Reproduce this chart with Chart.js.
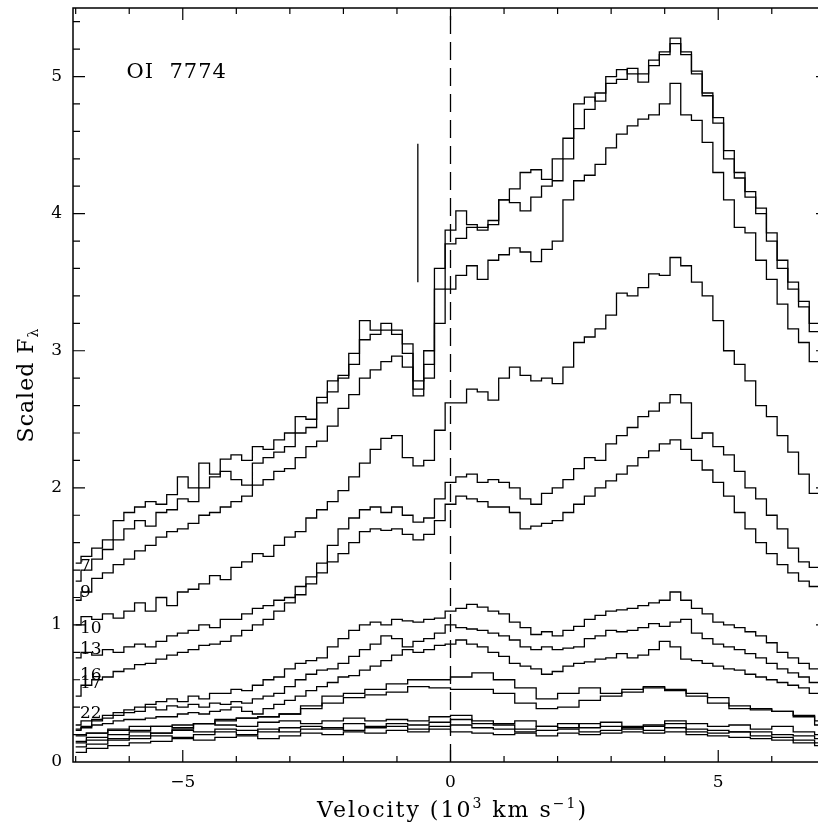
<!DOCTYPE html>
<html>
<head>
<meta charset="utf-8">
<script src="https://cdn.jsdelivr.net/npm/chart.js@4.4.0/dist/chart.umd.min.js"></script>
<style>
  html, body { margin: 0; padding: 0; background: #fff; overflow: hidden; }
  canvas { display: block; }
</style>
</head>
<body>
<canvas id="myChart" width="830" height="826"></canvas>
<script>
// velocity grids (10^3 km/s)
var vFine = [-7.0,-6.8,-6.6,-6.4,-6.2,-6.0,-5.8,-5.6,-5.4,-5.2,
  -5.0,-4.8,-4.6,-4.4,-4.2,-4.0,-3.8,-3.6,-3.4,-3.2,
  -3.0,-2.8,-2.6,-2.4,-2.2,-2.0,-1.8,-1.6,-1.4,-1.2,
  -1.0,-0.8,-0.6,-0.4,-0.2,0.0,0.2,0.4,0.6,0.8,
  1.0,1.2,1.4,1.6,1.8,2.0,2.2,2.4,2.6,2.8,
  3.0,3.2,3.4,3.6,3.8,4.0,4.2,4.4,4.6,4.8,
  5.0,5.2,5.4,5.6,5.8,6.0,6.2,6.4,6.6,6.8,7.0]
var vCoarse = [-7.0,-6.6,-6.2,-5.8,-5.4,-5.0,-4.6,-4.2,-3.8,-3.4,-3.0,-2.6,
  -2.2,-1.8,-1.4,-1.0,-0.6,-0.2,0.2,0.6,1.0,1.4,1.8,2.2,
  2.6,3.0,3.4,3.8,4.2,4.6,5.0,5.4,5.8,6.2,6.6,7.0]

// scaled flux, one array per spectrum (top to bottom)
var fluxA = [1.45,1.50,1.56,1.62,1.76,1.82,1.86,1.90,1.88,1.95,
  2.08,2.00,2.18,2.10,2.21,2.24,2.20,2.30,2.28,2.35,
  2.40,2.52,2.50,2.66,2.78,2.82,2.98,3.22,3.15,3.20,
  3.15,3.05,2.78,3.00,3.60,3.88,4.02,3.92,3.90,3.92,
  4.10,4.18,4.30,4.32,4.25,4.40,4.55,4.80,4.85,4.82,
  5.00,5.05,5.02,4.96,5.12,5.18,5.28,5.16,5.02,4.86,
  4.66,4.40,4.26,4.12,4.00,3.80,3.60,3.45,3.32,3.20,3.12]
var fluxB = [1.32,1.40,1.48,1.55,1.62,1.70,1.76,1.72,1.82,1.84,
  1.92,1.90,2.00,2.08,2.12,2.06,2.02,2.18,2.22,2.26,
  2.30,2.40,2.44,2.62,2.70,2.80,2.90,3.08,3.12,3.15,
  3.12,2.98,2.72,2.90,3.45,3.78,3.82,3.90,3.88,3.95,
  4.10,4.08,4.02,4.12,4.20,4.24,4.40,4.62,4.76,4.88,
  4.95,4.98,5.06,5.02,5.08,5.16,5.24,5.18,5.04,4.88,
  4.70,4.46,4.30,4.16,4.04,3.86,3.66,3.50,3.36,3.14,3.08]
var fluxC = [1.18,1.24,1.34,1.38,1.44,1.48,1.54,1.58,1.64,1.68,
  1.70,1.74,1.80,1.82,1.86,1.90,1.94,2.02,2.06,2.12,
  2.14,2.22,2.30,2.34,2.45,2.58,2.68,2.80,2.86,2.92,
  2.96,2.88,2.67,2.80,3.20,3.45,3.55,3.62,3.52,3.66,
  3.70,3.75,3.72,3.65,3.74,3.80,4.10,4.24,4.28,4.36,
  4.48,4.58,4.64,4.69,4.72,4.80,4.95,4.72,4.68,4.52,
  4.30,4.10,3.90,3.86,3.66,3.52,3.34,3.16,3.06,2.92,2.88]
var fluxD = [1.00,1.06,1.04,1.08,1.05,1.10,1.16,1.10,1.20,1.14,
  1.24,1.26,1.30,1.36,1.33,1.42,1.46,1.52,1.50,1.58,
  1.64,1.68,1.78,1.84,1.90,1.98,2.08,2.18,2.28,2.36,
  2.38,2.22,2.16,2.20,2.42,2.62,2.62,2.72,2.70,2.64,
  2.80,2.88,2.82,2.78,2.80,2.76,2.88,3.06,3.10,3.16,
  3.26,3.42,3.40,3.46,3.56,3.55,3.68,3.62,3.50,3.40,
  3.22,3.00,2.90,2.78,2.60,2.52,2.38,2.26,2.10,1.96,1.90]
var fluxE = [0.76,0.80,0.78,0.82,0.80,0.84,0.86,0.84,0.88,0.92,
  0.94,0.96,1.00,0.98,1.04,1.04,1.08,1.12,1.14,1.18,
  1.20,1.28,1.35,1.45,1.58,1.70,1.78,1.84,1.86,1.82,
  1.86,1.80,1.75,1.78,1.92,2.04,2.08,2.10,2.04,2.06,
  2.04,2.00,1.92,1.88,1.96,2.00,2.06,2.14,2.22,2.20,
  2.32,2.38,2.44,2.52,2.56,2.62,2.68,2.62,2.36,2.40,
  2.30,2.24,2.12,2.00,1.92,1.80,1.70,1.56,1.46,1.42,1.40]
var fluxF = [0.48,0.56,0.60,0.62,0.66,0.68,0.71,0.72,0.75,0.78,
  0.80,0.82,0.85,0.86,0.88,0.92,0.96,1.00,1.04,1.10,
  1.16,1.22,1.30,1.38,1.46,1.52,1.60,1.68,1.70,1.69,
  1.70,1.66,1.62,1.66,1.76,1.88,1.94,1.92,1.90,1.86,
  1.86,1.82,1.70,1.72,1.74,1.76,1.82,1.88,1.94,2.00,
  2.05,2.10,2.16,2.22,2.27,2.32,2.35,2.28,2.20,2.13,
  2.04,1.94,1.82,1.70,1.60,1.52,1.44,1.38,1.32,1.28,1.26]
var fluxG = [0.27,0.30,0.31,0.34,0.36,0.38,0.40,0.42,0.44,0.46,
  0.44,0.48,0.46,0.50,0.50,0.53,0.52,0.56,0.60,0.62,
  0.68,0.72,0.74,0.76,0.84,0.90,0.96,1.00,1.02,1.00,
  1.04,1.03,1.02,1.04,1.05,1.10,1.12,1.15,1.13,1.10,
  1.08,1.02,0.98,0.93,0.95,0.92,0.96,0.99,1.04,1.07,
  1.10,1.11,1.12,1.14,1.16,1.18,1.24,1.18,1.12,1.08,
  1.02,1.00,0.98,0.95,0.92,0.87,0.80,0.76,0.72,0.68,0.66]
var fluxH = [0.24,0.26,0.30,0.32,0.34,0.36,0.37,0.40,0.38,0.41,
  0.40,0.42,0.40,0.43,0.42,0.44,0.43,0.46,0.48,0.50,
  0.55,0.60,0.64,0.67,0.68,0.72,0.77,0.82,0.86,0.92,
  0.90,0.84,0.88,0.90,0.94,1.00,0.98,0.97,0.96,0.94,
  0.92,0.89,0.84,0.82,0.84,0.82,0.83,0.84,0.90,0.92,
  0.96,0.95,0.96,0.98,1.01,0.99,1.02,1.04,0.94,0.90,
  0.86,0.84,0.82,0.79,0.76,0.72,0.68,0.65,0.62,0.58,0.56]
var fluxI = [0.23,0.25,0.27,0.28,0.30,0.31,0.31,0.32,0.33,0.33,
  0.35,0.36,0.35,0.37,0.38,0.40,0.37,0.35,0.39,0.42,
  0.45,0.48,0.52,0.55,0.58,0.62,0.63,0.67,0.70,0.74,
  0.78,0.82,0.80,0.82,0.85,0.86,0.89,0.86,0.84,0.80,
  0.77,0.72,0.70,0.68,0.64,0.66,0.70,0.72,0.73,0.75,
  0.76,0.79,0.76,0.78,0.82,0.88,0.84,0.75,0.74,0.72,
  0.70,0.68,0.67,0.64,0.62,0.60,0.58,0.56,0.54,0.50,0.48]
var fluxJ = [0.19,0.21,0.23,0.26,0.26,0.27,0.28,0.30,0.32,0.33,0.35,0.41,
  0.48,0.50,0.53,0.57,0.60,0.60,0.62,0.65,0.60,0.54,0.46,0.50,
  0.54,0.50,0.53,0.55,0.53,0.50,0.47,0.41,0.39,0.37,0.33,0.27]
var fluxK = [0.14,0.16,0.17,0.19,0.21,0.24,0.28,0.31,0.32,0.33,0.35,0.39,
  0.43,0.47,0.49,0.51,0.55,0.54,0.53,0.53,0.50,0.43,0.39,0.40,
  0.45,0.48,0.51,0.54,0.52,0.48,0.43,0.39,0.38,0.37,0.34,0.30]
var fluxL = [0.20,0.21,0.24,0.23,0.26,0.25,0.28,0.27,0.26,0.29,0.30,0.28,
  0.30,0.32,0.30,0.31,0.30,0.33,0.34,0.30,0.28,0.30,0.26,0.28,
  0.25,0.29,0.26,0.27,0.30,0.28,0.26,0.27,0.24,0.26,0.22,0.20]
var fluxM = [0.15,0.18,0.20,0.22,0.21,0.23,0.22,0.24,0.23,0.22,0.25,0.26,
  0.24,0.28,0.26,0.28,0.27,0.29,0.31,0.28,0.27,0.24,0.26,0.25,
  0.28,0.26,0.24,0.26,0.28,0.24,0.23,0.22,0.22,0.20,0.19,0.17]
var fluxN = [0.11,0.13,0.16,0.17,0.19,0.18,0.20,0.22,0.20,0.24,0.22,0.24,
  0.25,0.23,0.25,0.26,0.24,0.26,0.27,0.25,0.24,0.22,0.23,0.24,
  0.22,0.23,0.25,0.23,0.25,0.22,0.21,0.22,0.19,0.18,0.16,0.14]
var fluxO = [0.07,0.10,0.12,0.14,0.15,0.17,0.16,0.18,0.19,0.17,0.19,0.21,
  0.20,0.22,0.21,0.23,0.22,0.24,0.22,0.21,0.20,0.21,0.19,0.21,
  0.20,0.21,0.22,0.21,0.22,0.20,0.19,0.18,0.17,0.16,0.14,0.12]

var xTicks = [-5, 0, 5]
var yTicks = [0, 1, 2, 3, 4, 5]

// day labels at the left end of the spectra
var dayLabels = ['7', '9', '10', '13', '16', '17', '22']
var dayLabelY = [1.39, 1.20, 0.94, 0.79, 0.60, 0.54, 0.32]
var dayLabelX = -6.92

// rest velocity line and the short absorption marker
var zeroLineX = [0, 0]
var zeroLineY = [0, 5.5]
var markX = [-0.61, -0.61]
var markY = [3.50, 4.51]

var SERIF = '"DejaVu Serif", "Liberation Serif", serif'

function pts(xs, ys) {
    return xs.map(function(x, i) { return {x: x, y: ys[i]} })
}

function spectrum(xs, ys) {
    return {
        data: pts(xs, ys),
        borderColor: '#000',
        borderWidth: 1.3,
        pointRadius: 0,
        stepped: 'middle',
        fill: false
    }
}

var datasets = [
    spectrum(vFine, fluxA), spectrum(vFine, fluxB), spectrum(vFine, fluxC),
    spectrum(vFine, fluxD), spectrum(vFine, fluxE), spectrum(vFine, fluxF),
    spectrum(vFine, fluxG), spectrum(vFine, fluxH), spectrum(vFine, fluxI),
    spectrum(vCoarse, fluxJ), spectrum(vCoarse, fluxK), spectrum(vCoarse, fluxL),
    spectrum(vCoarse, fluxM), spectrum(vCoarse, fluxN), spectrum(vCoarse, fluxO),
    {data: pts(zeroLineX, zeroLineY), borderColor: '#000', borderWidth: 1.3,
     borderDash: [18, 8], pointRadius: 0},
    {data: pts(markX, markY), borderColor: '#000', borderWidth: 1.3, pointRadius: 0}
]

// draws text pieces with superscripts / subscripts
function richText(c, parts, size) {
    var w = 0
    parts.forEach(function(p) {
        c.font = (p.small ? Math.round(size * 0.62) : size) + 'px ' + SERIF
        w += c.measureText(p.t).width
    })
    return w
}
function drawRich(c, parts, x, y, size) {
    parts.forEach(function(p) {
        c.font = (p.small ? Math.round(size * 0.62) : size) + 'px ' + SERIF
        c.fillText(p.t, x, y + (p.dy || 0))
        x += c.measureText(p.t).width
    })
}

var frame = {
    id: 'frame',
    afterDraw: function(chart) {
        var c = chart.ctx, a = chart.chartArea
        var sx = chart.scales.x, sy = chart.scales.y
        c.save()
        c.strokeStyle = '#000'
        c.fillStyle = '#000'
        c.lineWidth = 1.5
        c.strokeRect(a.left, a.top, a.right - a.left, a.bottom - a.top)
        c.lineWidth = 1.2
        c.beginPath()
        for (var v = -7; v <= 7; v++) {
            var px = sx.getPixelForValue(v)
            var len = (v % 5 === 0) ? 12 : 6
            c.moveTo(px, a.bottom); c.lineTo(px, a.bottom - len)
            c.moveTo(px, a.top); c.lineTo(px, a.top + len)
        }
        for (var k = 1; k <= 27; k++) {
            var py = sy.getPixelForValue(k / 5)
            var len2 = (k % 5 === 0) ? 12 : 7
            c.moveTo(a.left, py); c.lineTo(a.left + len2, py)
            c.moveTo(a.right, py); c.lineTo(a.right - len2, py)
        }
        c.stroke()

        c.textBaseline = 'alphabetic'
        c.textAlign = 'left'
        // line label
        c.font = '21px ' + SERIF
        c.letterSpacing = '1px'
        c.fillText('OI  7774', sx.getPixelForValue(-6.05), sy.getPixelForValue(4.99))
        // day labels
        c.letterSpacing = '0px'
        c.font = '17px ' + SERIF
        dayLabels.forEach(function(t, i) {
            c.fillText(t, sx.getPixelForValue(dayLabelX), sy.getPixelForValue(dayLabelY[i]))
        })

        // x axis title, centred on the visible page width
        var size = 22
        c.letterSpacing = '2px'
        var xt = [
            {t: 'Velocity (10'},
            {t: '3', small: true, dy: -9},
            {t: ' km s'},
            {t: '\u22121', small: true, dy: -9},
            {t: ')'}
        ]
        var w = richText(c, xt, size)
        drawRich(c, xt, sx.getPixelForValue(0) - w / 2 + 2, 817, size)

        // y axis title
        c.letterSpacing = '1px'
        var yt = [
            {t: 'Scaled F'},
            {t: '\u03bb', small: true, dy: 5}
        ]
        c.translate(33, 385)
        c.rotate(-Math.PI / 2)
        var w2 = richText(c, yt, size)
        drawRich(c, yt, -w2 / 2, 0, size)
        c.restore()
    }
}

var ctx = document.getElementById('myChart').getContext('2d')
var myChart = new Chart(ctx, {
    type: 'line',
    data: { datasets: datasets },
    options: {
        responsive: false,
        animation: false,
        devicePixelRatio: 1,
        layout: { padding: { top: 8, right: 2, left: 0, bottom: 0 } },
        plugins: { legend: { display: false }, tooltip: { enabled: false } },
        elements: { line: { tension: 0 } },
        scales: {
            x: {
                type: 'linear',
                min: -7.05,
                max: 7.05,
                afterBuildTicks: function(s) { s.ticks = xTicks.map(function(v) { return {value: v} }) },
                afterFit: function(s) { s.height = 64; s.paddingLeft = 0; s.paddingRight = 0 },
                grid: { display: false, drawTicks: false },
                border: { display: false },
                ticks: {
                    padding: 10,
                    maxRotation: 0,
                    color: '#000',
                    font: { family: SERIF, size: 17 },
                    callback: function(v) { return v < 0 ? '\u2212' + Math.abs(v) : '' + v }
                }
            },
            y: {
                min: 0,
                max: 5.5,
                afterBuildTicks: function(s) { s.ticks = yTicks.map(function(v) { return {value: v} }) },
                afterFit: function(s) { s.width = 73; s.paddingTop = 0; s.paddingBottom = 0 },
                grid: { display: false, drawTicks: false },
                border: { display: false },
                ticks: {
                    padding: 11,
                    color: '#000',
                    font: { family: SERIF, size: 17 }
                }
            }
        }
    },
    plugins: [frame]
})
</script>
</body>
</html>
